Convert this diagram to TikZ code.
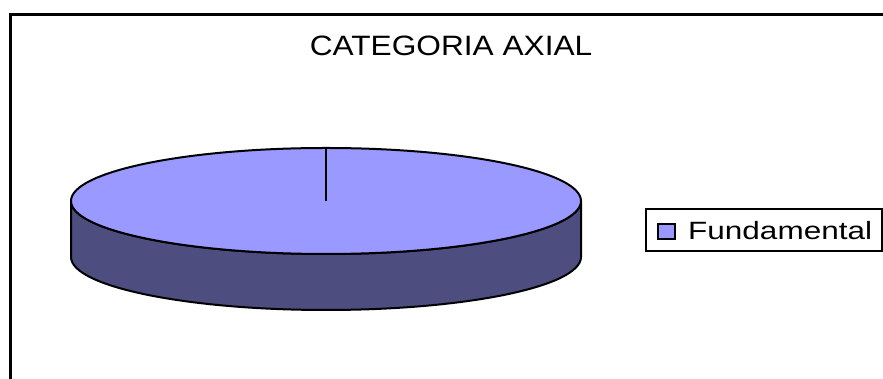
\documentclass[tikz,border=0pt]{standalone}
\usepackage{fontspec}
\setmainfont{Liberation Sans}
\definecolor{pietop}{RGB}{153,153,255}
\definecolor{pieside}{RGB}{77,77,128}
\tikzset{
  outline/.style={draw=black,line width=2pt,line join=round},
  framestyle/.style={draw=black,line width=3pt},
  titletext/.style={inner sep=0pt,font=\fontsize{28}{30}\selectfont},
  legtext/.style={inner sep=0pt,font=\fontsize{25}{27}\selectfont},
}
\begin{document}
\begin{tikzpicture}[x=1pt,y=1pt]
\useasboundingbox (0,0) rectangle (883,379);
% frame
\draw[framestyle] (10,-2) -- (10,364) -- (885,364);
% title
\node[titletext,anchor=base] (title) at (451,323) {\scalebox{1.13}[1]{CATEGORIA AXIAL}};
% cylinder side
\draw[outline,fill=pieside] (71,178) -- (71,122) arc[start angle=180,end angle=360,x radius=255,y radius=53] -- (581,178) arc[start angle=0,end angle=-180,x radius=255,y radius=53] -- cycle;
% top
\draw[outline,fill=pietop] (326,178) ellipse[x radius=255,y radius=53];
\coordinate (c) at (326,178);
\coordinate (r) at (326,231);
\draw[black,line width=2.4pt] (c) -- (r);
% legend
\node[draw=black,line width=2pt,minimum width=236pt,minimum height=42pt,inner sep=0pt,anchor=north west] (legbox) at (645,171) {};
\node[draw=black,line width=2pt,fill=pietop,minimum width=17pt,minimum height=15pt,inner sep=0pt] (legkey) at (666,147.5) {};
\node[legtext,anchor=base west] (legtxt) at (688,139.5) {\scalebox{1.26}[1]{Fundamental}};
\end{tikzpicture}
\end{document}
